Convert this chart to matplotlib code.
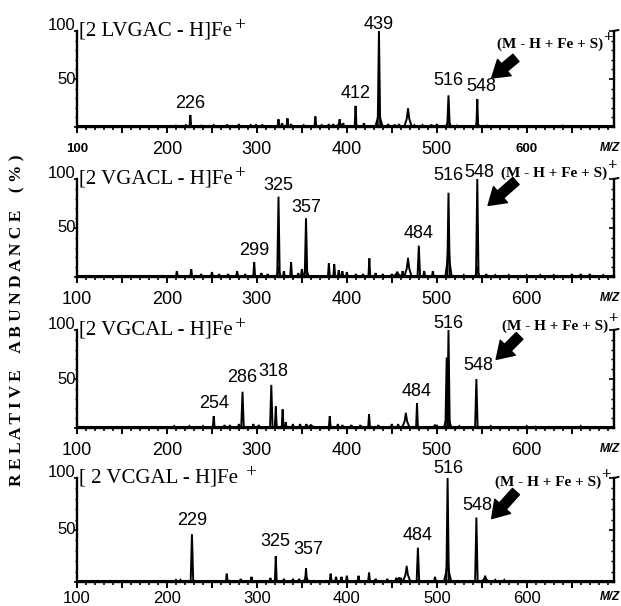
import matplotlib
matplotlib.use('Agg')
import matplotlib.pyplot as plt
from matplotlib import font_manager
from matplotlib.ticker import MultipleLocator

names = {f.name for f in font_manager.fontManager.ttflist}
NARROW = 'Liberation Sans Narrow' if 'Liberation Sans Narrow' in names else 'Liberation Sans'
SERIF = 'Liberation Serif'

# ---- data (m/z, relative abundance %) ----
titles = ['[2 LVGAC - H]Fe', '[2 VGACL - H]Fe', '[2 VGCAL - H]Fe', '[ 2 VCGAL - H]Fe ']

peaks_1 = [(226, 12.5), (409.7, 22), (435.7, 100), (513, 33), (545, 29),
           (210, 1.5), (221, 2), (238, 1.5), (252, 2), (267, 2.5), (280, 3), (293, 2),
           (299, 2.5), (306, 2.5), (324, 8), (328, 4), (334, 9), (338, 3), (352, 2),
           (365, 11), (372, 2), (380, 3), (385, 3), (392, 8), (396, 4), (419, 4),
           (446, 3), (453, 2.5), (458, 3), (475, 2), (484, 2), (494, 2.5), (500, 3),
           (522, 1.5), (556, 1.5), (580, 1), (640, 1.5)]
bumps_1 = [(435.7, 20, 4), (468, 19, 4), (513, 8, 3), (545, 6, 2.5), (392, 5, 4)]
labels_1 = [('226', 226, 25), ('412', 409.7, 35), ('439', 435.7, 107),
            ('516', 513, 48), ('548', 549, 42)]

peaks_2 = [(297, 15), (324, 82), (354.6, 60), (480, 32), (513, 86), (545, 100),
           (211, 6), (227, 8), (238, 3), (250, 5), (258, 3), (268, 3), (278, 6),
           (287, 3), (305, 4), (312, 3), (330, 6), (338, 15), (346, 4), (350, 8),
           (380, 14), (386, 13), (391, 7), (395, 6), (400, 5), (410, 3), (418, 3),
           (425, 19), (432, 4), (440, 3), (450, 3), (456, 4), (462, 6), (486, 6),
           (495.6, 6), (530, 2), (555, 3), (565, 2), (580, 2), (600, 2), (615, 2),
           (630, 2), (650, 3), (660, 3), (670, 3), (685, 2)]
bumps_2 = [(468, 19, 4), (513, 35, 3.5), (545, 10, 2.5), (354.6, 12, 3),
           (324, 10, 2.5), (456, 5, 5)]
labels_2 = [('299', 297, 27), ('325', 324, 93), ('357', 354.6, 71),
            ('484', 480, 44), ('516', 513, 104), ('548', 547, 107)]

peaks_3 = [(252, 12), (284, 37), (316, 44), (321, 22), (328.6, 19), (478, 25),
           (511, 72), (513, 100), (544, 50),
           (208, 2), (225, 2), (240, 2), (264, 3), (270, 3), (280, 4), (296, 4),
           (302, 3), (332, 6), (340, 4), (348, 4), (355, 4), (360, 3), (381, 12),
           (390, 4), (395, 3), (405, 3), (415, 3), (424.7, 14), (435, 3), (450, 4),
           (457, 4), (500, 3), (525, 2), (560, 2), (600, 2), (610, 1.5), (660, 2)]
bumps_3 = [(465.6, 15, 4), (512, 20, 4), (498, 3, 4), (360, 3, 6)]
labels_3 = [('254', 252, 25), ('286', 284, 52), ('318', 318, 58),
            ('484', 478, 37), ('516', 513, 107), ('548', 546, 64)]

peaks_4 = [(227.8, 46), (321, 25), (354.6, 13), (479, 33), (512, 100), (544, 62),
           (210, 2), (215, 2), (266.5, 8), (282, 3), (294, 5), (315, 4), (330, 3),
           (340, 3), (347, 3), (382, 8), (388, 5), (394, 5), (400, 6), (413, 6),
           (424.7, 9), (432, 3), (445, 3), (455, 4), (460, 4), (498, 5), (553.7, 6),
           (565, 2), (575, 2), (590, 1)]
bumps_4 = [(466.5, 15, 4), (512, 22, 4), (354.6, 6, 3), (553.7, 5, 4), (458, 4, 6)]
labels_4 = [('229', 227.8, 59), ('325', 321, 39), ('357', 357, 31),
            ('484', 479, 45), ('516', 513, 109), ('548', 545, 74)]

ion_pos = [(626, 86), (630, 106), (631, 104), (624, 96)]
arrow_tail = [(588, 72), (588, 98), (592, 94), (588, 87)]
arrow_head = [(561, 51), (557, 73), (566, 70), (561, 61)]

x_ticks = [100, 200, 300, 400, 500, 600]

panels = [(peaks_1, bumps_1, labels_1), (peaks_2, bumps_2, labels_2),
          (peaks_3, bumps_3, labels_3), (peaks_4, bumps_4, labels_4)]

# ---- layout (pixels) ----
W, H = 621, 606
left_px, right_px = 77, 614
panel_px = [(31, 127), (179, 277), (330, 428), (478, 582)]  # (100 % line, baseline)

fig = plt.figure(figsize=(W / 100, H / 100), dpi=100)
fig.patch.set_facecolor('white')

for i, (peaks, bumps, labels) in enumerate(panels):
    top, base = panel_px[i]
    ax = fig.add_axes([left_px / W, 1 - base / H, (right_px - left_px) / W, (base - top) / H])
    ax.set_xlim(100, 697)
    ax.set_ylim(0, 100)
    ax.patch.set_alpha(0)

    # baseline noise
    ax.plot([100, 697], [0.8, 0.8], color='black', lw=1.5, clip_on=False)
    for mz, h in peaks:
        w = 1.4 if h > 30 else 1.0
        ax.plot([mz - w, mz, mz + w], [0.8, h, 0.8], color='black', lw=1.4,
                clip_on=False, solid_joinstyle='miter')
    for mz, h, w in bumps:
        ax.plot([mz - w, mz - w * 0.35, mz, mz + w * 0.35, mz + w],
                [0.8, h * 0.45, h, h * 0.45, 0.8], color='black', lw=1.4, clip_on=False)

    for txt, mz, y in labels:
        ax.text(mz, y, txt, ha='center', va='center', family=NARROW, fontsize=13)

    # title with superscript +
    t = ax.text(0.004, 100, titles[i], transform=ax.get_yaxis_transform(),
                ha='left', va='center', family=SERIF, fontsize=15)
    ax.annotate('+', xy=(1, 1), xycoords=t, xytext=(1, -3), textcoords='offset points',
                ha='left', va='center', family=SERIF, fontsize=14)

    ion = ax.text(ion_pos[i][0], ion_pos[i][1], '(M - H + Fe + S)', ha='center',
                  va='center', family=SERIF, fontsize=11, weight='bold')
    ax.annotate('+', xy=(1, 1), xycoords=ion, xytext=(0, 0), textcoords='offset points',
                ha='left', va='center', family=SERIF, fontsize=12, weight='bold')

    ax.annotate('', xy=arrow_head[i], xytext=arrow_tail[i],
                arrowprops=dict(arrowstyle='simple,head_length=0.7,head_width=0.9,tail_width=0.4',
                                fc='black', ec='black', mutation_scale=17,
                                shrinkA=0, shrinkB=0))

    # spines / ticks
    ax.spines['top'].set_visible(False)
    for s in ('left', 'bottom', 'right'):
        ax.spines[s].set_linewidth(1.7)
    ax.xaxis.set_major_locator(MultipleLocator(50))
    ax.xaxis.set_minor_locator(MultipleLocator(10))
    ax.tick_params(axis='x', which='major', direction='out', length=4.5, width=1.4,
                   labelbottom=False)
    ax.tick_params(axis='x', which='minor', direction='out', length=2, width=1.2)
    ax.yaxis.set_major_locator(MultipleLocator(50))
    ax.yaxis.set_minor_locator(MultipleLocator(10))
    ax.tick_params(axis='y', which='major', direction='out', length=2, width=1.2,
                   labelleft=False, right=True, labelright=False)
    ax.tick_params(axis='y', which='minor', direction='out', length=1.2, width=1.0,
                   right=True)
    for tk in ax.yaxis.get_major_ticks():
        tk.tick2line.set_marker(0)
        tk.tick2line.set_markersize(3.5)
    for tk in ax.yaxis.get_minor_ticks():
        tk.tick2line.set_marker(0)
        tk.tick2line.set_markersize(2)
    ax.plot([1, 1.008], [1, 1.01], transform=ax.transAxes, color='black', lw=1.4,
            clip_on=False)

    last = (i == len(panels) - 1)
    dy = -12 if last else -16
    for v in x_ticks:
        small = (i == 0 and v in (100, 600))
        ax.annotate(str(v), xy=(v, 0), xycoords='data', xytext=(0, dy),
                    textcoords='offset points', ha='center', va='center', family=NARROW,
                    fontsize=9.5 if small else (12 if last else 13),
                    weight='bold' if small else 'normal', annotation_clip=False)
    ax.annotate('M/Z', xy=(1, 0), xycoords='axes fraction', xytext=(-10, dy + 1),
                textcoords='offset points', ha='left', va='center', family=NARROW,
                fontsize=8.5, weight='bold', style='italic', annotation_clip=False)

    ax.annotate('100', xy=(0, 100), xycoords=('axes fraction', 'data'), xytext=(-1, 4),
                textcoords='offset points', ha='right', va='center', family=NARROW,
                fontsize=12, annotation_clip=False)
    ax.annotate('50', xy=(0, 50), xycoords=('axes fraction', 'data'), xytext=(-1, 0),
                textcoords='offset points', ha='right', va='center', family=NARROW,
                fontsize=12, annotation_clip=False)

fig.text(0.028, 0.472, 'R E L A T I V E    A B U N D A N C E    ( % )', rotation=90,
         ha='center', va='center', family=SERIF, fontsize=12.5, weight='bold')

fig.savefig('out.png', dpi=100, facecolor='white')
